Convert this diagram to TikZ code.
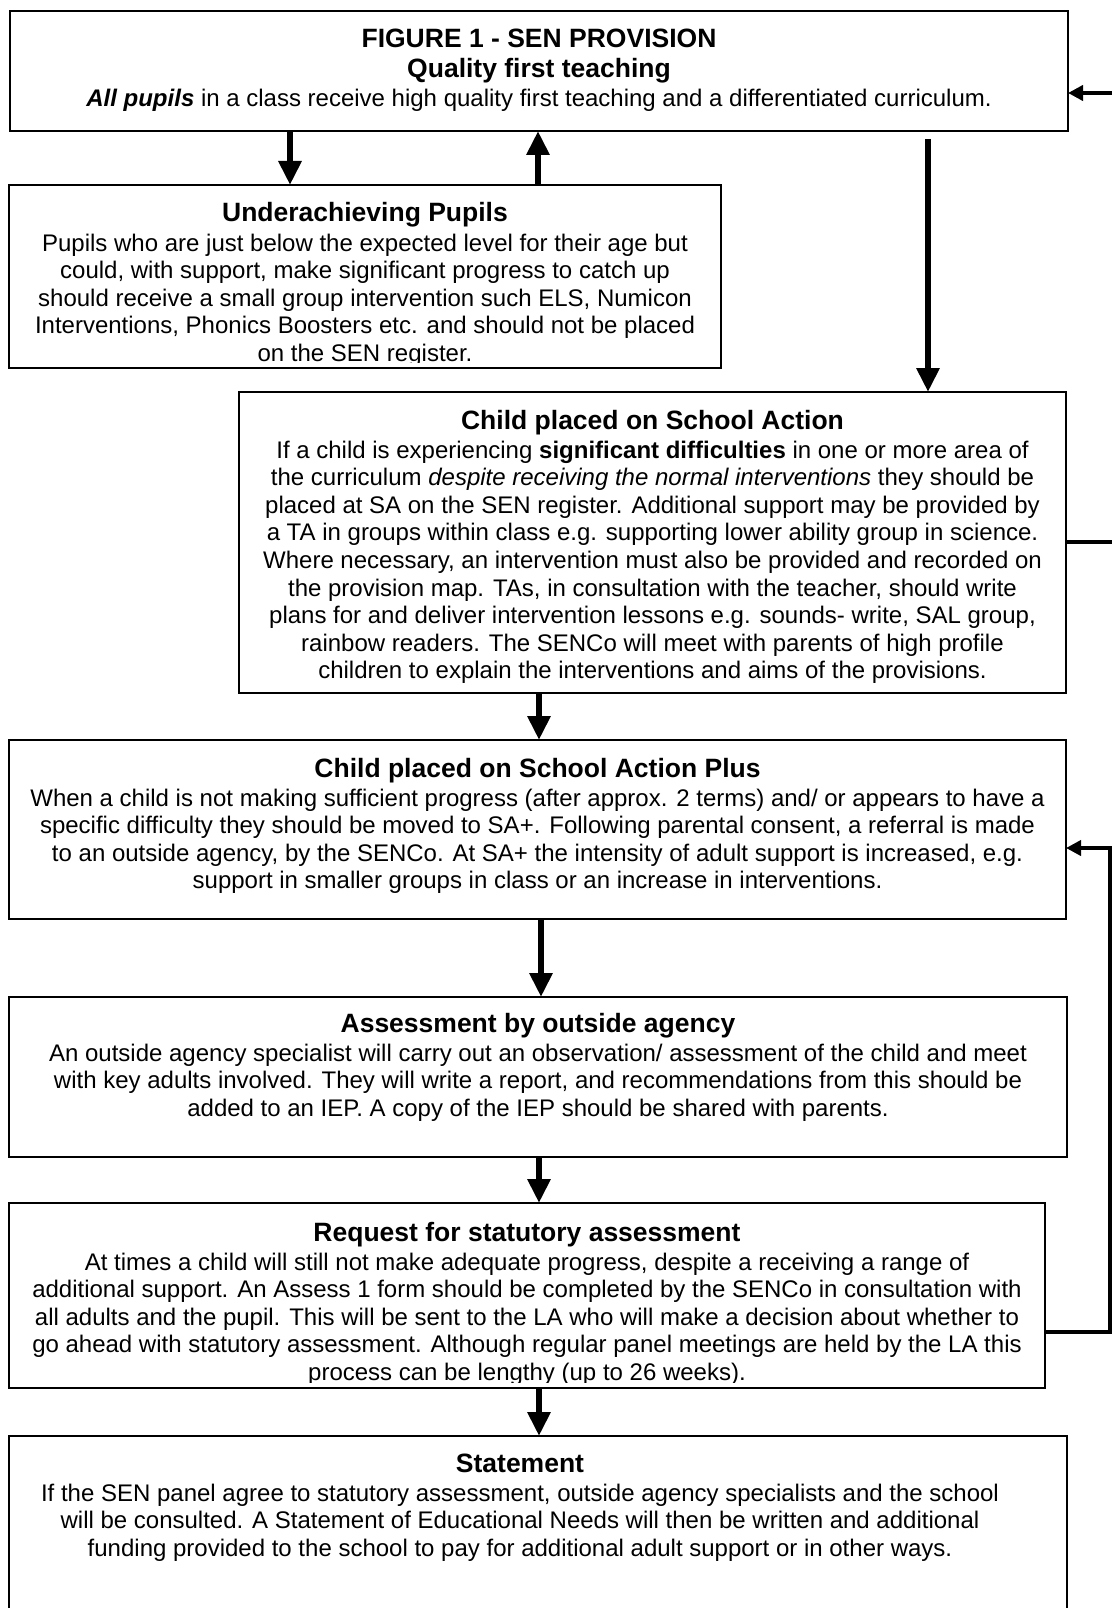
\documentclass[tikz,border=0pt]{standalone}
\usepackage{fontspec}
\setmainfont{Liberation Sans}
\usetikzlibrary{arrows.meta,calc}
\newcommand\boxtext[1]{{\fontsize{24pt}{27.6pt}\selectfont\begin{tabular}[t]{@{}c@{}}#1\end{tabular}}}
\newcommand\ttl[1]{{\fontsize{26.5pt}{27.6pt}\selectfont\bfseries #1}}
\begin{document}
\begin{tikzpicture}[x=1pt,y=-1pt,
  box/.style={draw=black, line width=2pt, rectangle, anchor=north west, inner sep=0pt, outer sep=0pt},
  txt/.style={anchor=base, inner sep=0pt, outer sep=0pt},
  varr/.style={line width=6pt, -{Triangle[length=24pt,width=22pt]}},
  harr/.style={line width=4.5pt, line join=miter, -{Triangle[length=15pt,width=15pt]}},
  hline/.style={line width=4.5pt}]
\useasboundingbox (0,0) rectangle (1112,1608);
\clip (0,0) rectangle (1112,1608);
\fill[white] (0,0) rectangle (1112,1608);

% boxes
\node (top)   [box, minimum width=1058pt, minimum height=120pt] at (10,11) {};
\node (under) [box, minimum width=712pt,  minimum height=183pt] at (9,185) {};
\node (sa)    [box, minimum width=827pt,  minimum height=301pt] at (239,392) {};
\node (sap)   [box, minimum width=1057pt, minimum height=179pt] at (9,740) {};
\node (ass)   [box, minimum width=1058pt, minimum height=160pt] at (9,997) {};
\node (req)   [box, minimum width=1036pt, minimum height=185pt] at (9,1203) {};
\node (st)    [box, minimum width=1058pt, minimum height=220pt] at (9,1436) {};

% texts
\node (toptxt) [txt] at ([yshift=-36.5pt]top.north) {\boxtext{%
\ttl{FIGURE 1 - SEN PROVISION}\\[2.9pt]
\ttl{Quality first teaching}\\[1.4pt]
\textbf{\textit{All pupils}} in a class receive high quality first teaching and a differentiated curriculum.}};

\begin{scope}
\clip (under.north west) rectangle ([yshift=6pt]under.south east);
\node (undertxt) [txt] at ([yshift=-37pt]under.north) {\boxtext{%
\ttl{Underachieving Pupils}\\[1.4pt]
Pupils who are just below the expected level for their age but\\
could, with support, make significant progress to catch up\\
should receive a small group intervention such ELS, Numicon\\
Interventions, Phonics Boosters etc. and should not be placed\\
on the SEN register.}};
\end{scope}

\node (satxt) [txt] at ([yshift=-37pt]sa.north) {\boxtext{%
\ttl{Child placed on School Action}\\[1.4pt]
If a child is experiencing \textbf{significant difficulties} in one or more area of\\
the curriculum \textit{despite receiving the normal interventions} they should be\\
placed at SA on the SEN register. Additional support may be provided by\\
a TA in groups within class e.g. supporting lower ability group in science.\\
Where necessary, an intervention must also be provided and recorded on\\
the provision map. TAs, in consultation with the teacher, should write\\
plans for and deliver intervention lessons e.g. sounds- write, SAL group,\\
rainbow readers. The SENCo will meet with parents of high profile\\
children to explain the interventions and aims of the provisions.}};

\node (saptxt) [txt] at ([yshift=-37pt]sap.north) {\boxtext{%
\ttl{Child placed on School Action Plus}\\[1.4pt]
When a child is not making sufficient progress (after approx. 2 terms) and/ or appears to have a\\
specific difficulty they should be moved to SA+. Following parental consent, a referral is made\\
to an outside agency, by the SENCo. At SA+ the intensity of adult support is increased, e.g.\\
support in smaller groups in class or an increase in interventions.}};

\node (asstxt) [txt] at ([yshift=-35pt]ass.north) {\boxtext{%
\ttl{Assessment by outside agency}\\[1.4pt]
An outside agency specialist will carry out an observation/ assessment of the child and meet\\
with key adults involved. They will write a report, and recommendations from this should be\\
added to an IEP. A copy of the IEP should be shared with parents.}};

\begin{scope}
\clip (req.north west) rectangle ([yshift=6pt]req.south east);
\node (reqtxt) [txt] at ([yshift=-38pt]req.north) {\boxtext{%
\ttl{Request for statutory assessment}\\[1.4pt]
At times a child will still not make adequate progress, despite a receiving a range of\\
additional support. An Assess 1 form should be completed by the SENCo in consultation with\\
all adults and the pupil. This will be sent to the LA who will make a decision about whether to\\
go ahead with statutory assessment. Although regular panel meetings are held by the LA this\\
process can be lengthy (up to 26 weeks).}};
\end{scope}

\node (sttxt) [txt] at ([yshift=-36pt, xshift=-18pt]st.north) {\boxtext{%
\ttl{Statement}\\[1.4pt]
If the SEN panel agree to statutory assessment, outside agency specialists and the school\\
will be consulted. A Statement of Educational Needs will then be written and additional\\
funding provided to the school to pay for additional adult support or in other ways.}};

% connector positions
\coordinate (xa) at (290,0);
\coordinate (xb) at (538,0);
\coordinate (xc) at (928,0);
\coordinate (xd) at (539,0);
\coordinate (xe) at (1109.75,0);
\coordinate (e1) at (1112,93);
\coordinate (e2) at (1112,542);
\coordinate (ya) at (0,848);
\coordinate (yb) at (0,1332);

% vertical arrows
\draw[varr] (xa |- top.south) -- (xa |- under.north);
\draw[varr] (xb |- under.north) -- (xb |- top.south);
\draw[varr, shorten <=8pt] (xc |- top.south) -- (xc |- sa.north);
\draw[varr] (xd |- sa.south) -- (xd |- sap.north);
\draw[varr] ([xshift=2pt]xd |- sap.south) -- ([xshift=2pt]xd |- ass.north);
\draw[varr] (xd |- ass.south) -- (xd |- req.north);
\draw[varr] (xd |- req.south) -- (xd |- st.north);

% right side connectors
\draw[harr] (e1) -- (e1 -| top.east);
\draw[hline] (sa.east |- e2) -- (e2);
\draw[harr] (req.east |- yb) -| (xe |- ya) -- (sap.east |- ya);
\end{tikzpicture}
\end{document}
